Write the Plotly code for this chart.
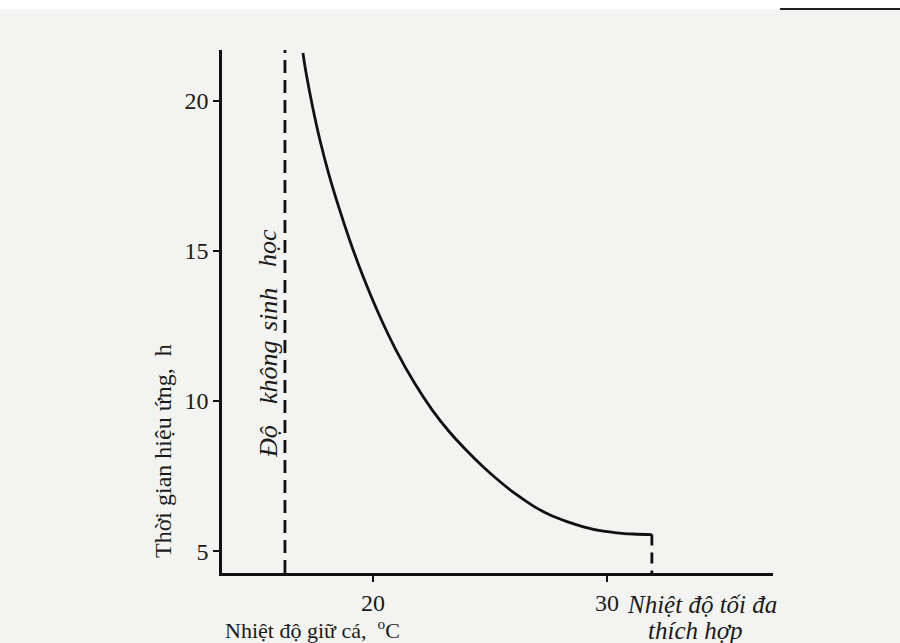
import plotly.graph_objects as go

# Curve: temperature (°C) vs effective time (h)
temp = [17.01, 17.145, 17.423, 17.735, 18.103, 18.538, 19.004, 19.556, 20.308, 20.987,
        21.778, 22.538, 23.274, 23.983, 24.709, 25.436, 26.158, 26.863, 27.577, 28.295,
        29.0, 29.718, 30.402, 31.124, 31.923]
time_h = [21.6, 20.93, 19.8, 18.7, 17.6, 16.47, 15.37, 14.2, 12.8, 11.7,
          10.6, 9.7, 8.97, 8.37, 7.81, 7.31, 6.87, 6.5, 6.2, 5.98,
          5.81, 5.68, 5.61, 5.57, 5.55]

bio_zero_x = 16.24        # "Độ không sinh học"
opt_max_x = 31.923        # "Nhiệt độ tối đa thích hợp"
opt_max_y = 5.55

x_ticks = [20, 30]
y_ticks = [5, 10, 15, 20]
x_range = [13.55, 37.1]
y_range = [4.27, 21.7]

FONT = "Liberation Serif"
L, R, T, B = 222, 127, 50, 70
PW, PH = 900 - L - R, 643 - T - B


def px(x):
    return (x - L) / PW


def py(y):
    return (643 - B - y) / PH


fig = go.Figure()
fig.add_trace(go.Scatter(x=temp, y=time_h, mode="lines",
                         line=dict(color="#111", width=2.8, shape="spline", smoothing=1.0),
                         showlegend=False, hoverinfo="skip"))
fig.add_trace(go.Scatter(x=[bio_zero_x, bio_zero_x], y=[y_range[0], y_range[1]], mode="lines",
                         line=dict(color="#111", width=2.8, dash="13px,7px"),
                         showlegend=False, hoverinfo="skip"))
fig.add_trace(go.Scatter(x=[opt_max_x, opt_max_x], y=[opt_max_y, y_range[0]], mode="lines",
                         line=dict(color="#111", width=2.8, dash="11px,7px"),
                         showlegend=False, hoverinfo="skip"))

words = [("Độ", 442), ("không", 372), ("sinh", 310), ("học", 248)]
annotations = [
    dict(text="Nhiệt độ giữ cá,  <sup>o</sup>C", xref="paper", yref="paper",
         x=px(312), y=py(629), xanchor="center", yanchor="middle",
         showarrow=False, font=dict(family=FONT, size=22)),
    dict(text="Thời gian hiệu ứng,  h", xref="paper", yref="paper",
         x=px(163), y=py(451), xanchor="center", yanchor="middle",
         textangle=-90, showarrow=False, font=dict(family=FONT, size=24)),
    dict(text="<i>Nhiệt độ tối đa</i>", xref="paper", yref="paper",
         x=px(625), y=py(604), xanchor="left", yanchor="middle",
         showarrow=False, font=dict(family=FONT, size=25)),
    dict(text="<i>thích hợp</i>", xref="paper", yref="paper",
         x=px(695), y=py(630), xanchor="center", yanchor="middle",
         showarrow=False, font=dict(family=FONT, size=25)),
]
for w, yc in words:
    annotations.append(dict(text=f"<i>{w}</i>", xref="paper", yref="paper",
                            x=px(268), y=py(yc), xanchor="center", yanchor="middle",
                            textangle=-90, showarrow=False, font=dict(family=FONT, size=26)))

fig.update_layout(
    width=900, height=643,
    margin=dict(l=L, r=R, t=T, b=B),
    paper_bgcolor="#f3f3f1", plot_bgcolor="#f3f3f1",
    font=dict(family=FONT, color="#1a1a1a", size=22),
    xaxis=dict(range=x_range, tickvals=x_ticks, showgrid=False, zeroline=False,
               showline=True, linecolor="#111", linewidth=2.5,
               ticks="outside", ticklen=6, tickwidth=2, tickcolor="#111",
               tickfont=dict(family=FONT, size=24)),
    yaxis=dict(range=y_range, tickvals=y_ticks, showgrid=False, zeroline=False,
               showline=True, linecolor="#111", linewidth=2.5,
               ticks="outside", ticklen=6, tickwidth=2, tickcolor="#111",
               tickfont=dict(family=FONT, size=24)),
    annotations=annotations,
    shapes=[
        dict(type="rect", xref="paper", yref="paper", x0=px(0), x1=px(900),
             y0=py(9), y1=py(0), fillcolor="white", line=dict(width=0), layer="below"),
        dict(type="line", xref="paper", yref="paper", x0=px(780), x1=px(900),
             y0=py(9), y1=py(9), line=dict(color="#222", width=2)),
    ],
)

fig.write_html("out.html", config={"displayModeBar": False},
               post_script="document.body.style.margin='0';")
